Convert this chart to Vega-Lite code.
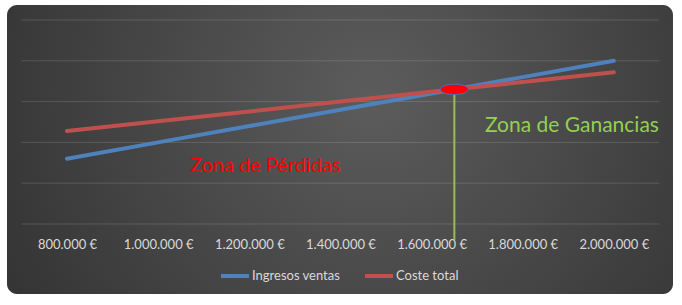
{
  "$schema": "https://vega.github.io/schema/vega-lite/v6.json",
  "width": 666,
  "height": 289,
  "autosize": {"type": "none"},
  "padding": {"left": 7, "top": 5, "right": 9, "bottom": 11},
  "background": "white",
  "view": {
    "stroke": null,
    "cornerRadius": 10,
    "fill": {
      "gradient": "radial",
      "x1": 0.55, "y1": 0.42, "r1": 0,
      "x2": 0.55, "y2": 0.42, "r2": 0.78,
      "stops": [
        {"offset": 0, "color": "#5c5c5c"},
        {"offset": 1, "color": "#2a2a2a"}
      ]
    }
  },
  "config": {
    "font": "Lato",
    "axis": {"labelFont": "Lato"},
    "legend": {"labelFont": "Lato"}
  },
  "datasets": {
    "series": [
      {"ventas": 800000, "serie": "Ingresos ventas", "valor": 800000},
      {"ventas": 1000000, "serie": "Ingresos ventas", "valor": 1000000},
      {"ventas": 1200000, "serie": "Ingresos ventas", "valor": 1200000},
      {"ventas": 1400000, "serie": "Ingresos ventas", "valor": 1400000},
      {"ventas": 1600000, "serie": "Ingresos ventas", "valor": 1600000},
      {"ventas": 1800000, "serie": "Ingresos ventas", "valor": 1800000},
      {"ventas": 2000000, "serie": "Ingresos ventas", "valor": 2000000},
      {"ventas": 800000, "serie": "Coste total", "valor": 1140000},
      {"ventas": 1000000, "serie": "Coste total", "valor": 1260000},
      {"ventas": 1200000, "serie": "Coste total", "valor": 1380000},
      {"ventas": 1400000, "serie": "Coste total", "valor": 1500000},
      {"ventas": 1600000, "serie": "Coste total", "valor": 1620000},
      {"ventas": 1800000, "serie": "Coste total", "valor": 1740000},
      {"ventas": 2000000, "serie": "Coste total", "valor": 1860000}
    ],
    "grid": [
      {"desde": 700000, "hasta": 2100000, "nivel": 0},
      {"desde": 700000, "hasta": 2100000, "nivel": 500000},
      {"desde": 700000, "hasta": 2100000, "nivel": 1000000},
      {"desde": 700000, "hasta": 2100000, "nivel": 1500000},
      {"desde": 700000, "hasta": 2100000, "nivel": 2000000},
      {"desde": 700000, "hasta": 2100000, "nivel": 2500000}
    ],
    "equilibrio": [
      {"ventas": 1650000, "valor": 1650000, "base": -200000}
    ],
    "perdidas": [
      {"ventas": 1235000, "valor": 715000, "texto": "Zona de Pérdidas"}
    ],
    "ganancias": [
      {"ventas": 1908000, "valor": 1195000, "texto": "Zona de Ganancias"}
    ]
  },
  "layer": [
    {
      "data": {"name": "grid"},
      "mark": {"type": "rule", "color": "#ffffff", "opacity": 0.14, "strokeWidth": 1},
      "encoding": {
        "x": {"field": "desde", "type": "quantitative", "scale": {"domain": [668300, 2129800], "nice": false, "zero": false},
          "axis": {
            "orient": "bottom", "offset": -50, "domain": false, "ticks": false, "tickSize": 0, "grid": false,
            "title": null, "labelPadding": 0, "labelBaseline": "middle", "labelFontSize": 13, "labelColor": "#d9d9d9",
            "values": [800000, 1000000, 1200000, 1400000, 1600000, 1800000, 2000000],
            "labelExpr": "replace(format(datum.value, ','), regexp(',', 'g'), '.') + ' €'"
          }},
        "x2": {"field": "hasta"},
        "y": {"field": "nivel", "type": "quantitative", "scale": {"domain": [-858000, 2684000], "nice": false, "zero": false}, "axis": null}
      }
    },
    {
      "data": {"name": "equilibrio"},
      "mark": {"type": "rule", "color": "#9bbb59", "strokeWidth": 2},
      "encoding": {
        "x": {"field": "ventas", "type": "quantitative"},
        "y": {"field": "valor", "type": "quantitative"},
        "y2": {"field": "base"}
      }
    },
    {
      "data": {"name": "series"},
      "mark": {"type": "line", "strokeWidth": 4, "strokeCap": "round"},
      "encoding": {
        "x": {"field": "ventas", "type": "quantitative"},
        "y": {"field": "valor", "type": "quantitative"},
        "color": {
          "field": "serie", "type": "nominal",
          "scale": {"domain": ["Ingresos ventas", "Coste total"], "range": ["#4f81bd", "#c0504d"]},
          "legend": {
            "title": null, "orient": "none", "direction": "horizontal",
            "legendX": 212, "legendY": 255, "padding": 0,
            "symbolType": "stroke", "symbolSize": 784, "symbolStrokeWidth": 4,
            "labelColor": "#d9d9d9", "labelFontSize": 13, "labelOffset": 1, "columnPadding": 16
          }
        }
      }
    },
    {
      "data": {"name": "equilibrio"},
      "mark": {"type": "point", "filled": true, "fill": "#ff0000", "stroke": "#4472c4", "strokeWidth": 1, "opacity": 1,
        "shape": "M-1,0A1,0.37 0 1,1 1,0A1,0.37 0 1,1 -1,0Z", "size": 784},
      "encoding": {
        "x": {"field": "ventas", "type": "quantitative"},
        "y": {"field": "valor", "type": "quantitative"}
      }
    },
    {
      "data": {"name": "perdidas"},
      "mark": {"type": "text", "color": "#ff0000", "fontSize": 20, "align": "center", "baseline": "middle"},
      "encoding": {
        "x": {"field": "ventas", "type": "quantitative"},
        "y": {"field": "valor", "type": "quantitative"},
        "text": {"field": "texto"}
      }
    },
    {
      "data": {"name": "ganancias"},
      "mark": {"type": "text", "color": "#92d050", "fontSize": 21, "align": "center", "baseline": "middle"},
      "encoding": {
        "x": {"field": "ventas", "type": "quantitative"},
        "y": {"field": "valor", "type": "quantitative"},
        "text": {"field": "texto"}
      }
    }
  ]
}
